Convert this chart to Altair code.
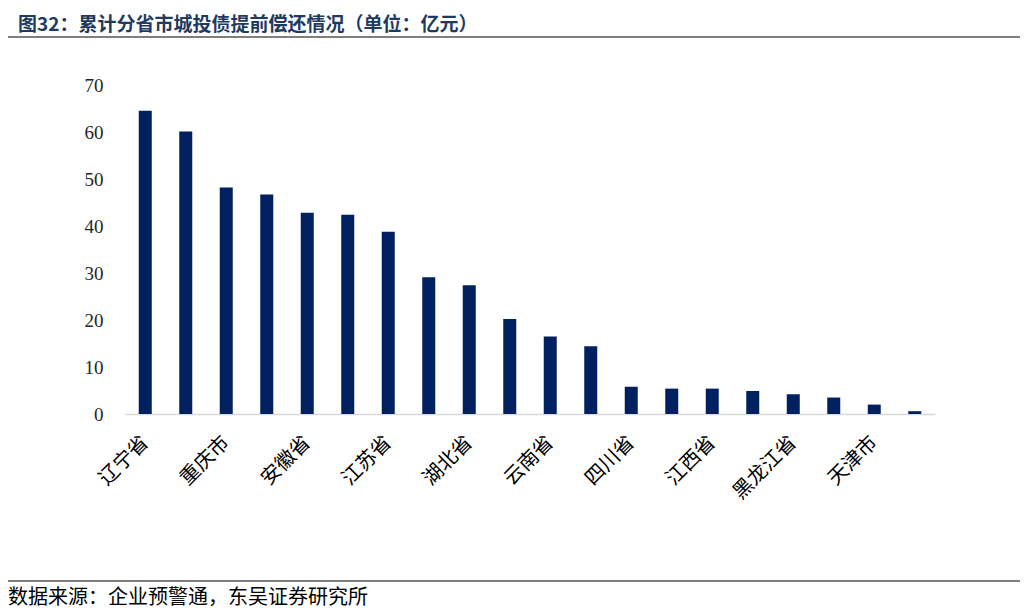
import altair as alt
import pandas as pd

categories = ["辽宁省", "山东省", "重庆市", "河南省", "安徽省", "湖南省", "江苏省", "浙江省",
              "湖北省", "广西", "云南省", "陕西省", "四川省", "吉林省", "江西省", "甘肃省",
              "黑龙江省", "内蒙古", "天津市", "福建省"]
values = [64.5, 60.1, 48.2, 46.7, 42.8, 42.4, 38.8, 29.1, 27.4, 20.2,
          16.5, 14.4, 5.8, 5.4, 5.4, 4.9, 4.2, 3.5, 2.0, 0.6]
shown_labels = ["辽宁省", "重庆市", "安徽省", "江苏省", "湖北省", "云南省", "四川省",
                "江西省", "黑龙江省", "天津市"]
y_ticks = [0, 10, 20, 30, 40, 50, 60, 70]
title_text = "图32：累计分省市城投债提前偿还情况（单位：亿元）"
source_text = "数据来源：企业预警通，东吴证券研究所"

df = pd.DataFrame({"province": categories, "amount": values})
one = alt.Data(values=[{"k": 1}])

label_expr = "indexof([" + ",".join("'" + s + "'" for s in shown_labels) + "], datum.value) >= 0 ? datum.label : ''"

bars = alt.Chart(df).mark_bar(color="#002060", size=13).encode(
    x=alt.X("province:N", sort=None, title=None,
            scale=alt.Scale(paddingInner=0, paddingOuter=0),
            axis=alt.Axis(labelAngle=-45, labelAlign="right", labelBaseline="middle",
                          labelExpr=label_expr, ticks=False, domainColor="#d9d9d9",
                          domainWidth=1.5, labelPadding=25, labelFont="Noto Sans CJK SC",
                          labelFontSize=20, labelColor="#000000", labelOverlap=False)),
    y=alt.Y("amount:Q", title=None, scale=alt.Scale(domain=[0, 70], nice=False),
            axis=alt.Axis(values=y_ticks, domain=False, ticks=False, grid=False,
                          labelPadding=22, labelFont="Liberation Serif", labelFontSize=19,
                          labelColor="#262626")),
)

title = alt.Chart(one).mark_text(text=title_text, align="left", baseline="middle",
                                 font="Noto Sans CJK SC", fontSize=19, fontWeight="bold",
                                 color="#1F3A5F").encode(x=alt.value(-107), y=alt.value(-60))
top_line = alt.Chart(one).mark_rule(color="#000000", strokeWidth=1.2).encode(
    x=alt.value(-120), x2=alt.value(895), y=alt.value(-48))
bottom_line = alt.Chart(one).mark_rule(color="#000000", strokeWidth=1.2).encode(
    x=alt.value(-122), x2=alt.value(895), y=alt.value(496))
source = alt.Chart(one).mark_text(text=source_text, align="left", baseline="middle",
                                  font="Noto Sans CJK SC", fontSize=20,
                                  color="#000000").encode(x=alt.value(-117), y=alt.value(513))

chart = alt.layer(bars, title, top_line, bottom_line, source).properties(
    width=810, height=329, autosize="none",
    padding={"left": 117, "top": 77, "right": 85, "bottom": 200},
).configure_view(stroke=None)

chart.save("out.html", embed_options={"renderer": "svg", "actions": False})
